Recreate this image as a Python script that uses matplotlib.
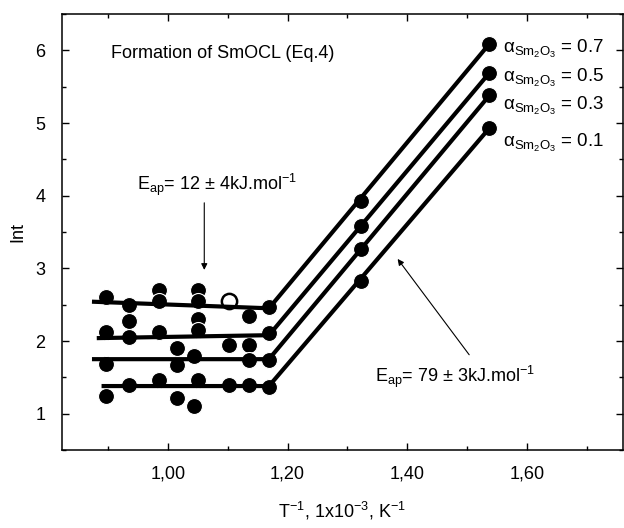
import matplotlib
matplotlib.use('Agg')
import matplotlib.pyplot as plt
from matplotlib.ticker import MultipleLocator, FuncFormatter

plt.rcParams['font.family'] = ['Liberation Sans', 'DejaVu Sans']
plt.rcParams['mathtext.fontset'] = 'custom'
plt.rcParams['mathtext.rm'] = 'Liberation Sans'
plt.rcParams['mathtext.it'] = 'Liberation Sans:italic'
plt.rcParams['mathtext.bf'] = 'Liberation Sans:bold'

# measured points, one list per alpha(Sm2O3)
labels = ['0.7', '0.5', '0.3', '0.1']

x_07 = [0.897, 0.936, 0.986, 0.986, 1.050, 1.050, 1.136, 1.169, 1.322, 1.537]
y_07 = [2.61, 2.50, 2.70, 2.55, 2.70, 2.55, 2.34, 2.47, 3.92, 6.09]
x_05 = [0.897, 0.936, 0.936, 0.986, 1.050, 1.050, 1.102, 1.136, 1.169, 1.322, 1.537]
y_05 = [2.13, 2.05, 2.28, 2.12, 2.30, 2.15, 1.95, 1.95, 2.11, 3.58, 5.69]
x_03 = [0.897, 1.016, 1.016, 1.044, 1.136, 1.169, 1.322, 1.537]
y_03 = [1.69, 1.91, 1.67, 1.79, 1.74, 1.74, 3.26, 5.38]
x_01 = [0.897, 0.936, 0.986, 1.016, 1.044, 1.050, 1.102, 1.136, 1.169, 1.322, 1.537]
y_01 = [1.25, 1.39, 1.46, 1.22, 1.10, 1.46, 1.39, 1.39, 1.37, 2.83, 4.93]

# open (white) circles
x_open = [1.102]
y_open = [2.55]

# fitted lines: start, break, end
fit_x = [[0.877, 1.169, 1.537], [0.885, 1.169, 1.537],
         [0.877, 1.169, 1.537], [0.893, 1.169, 1.537]]
fit_y = [[2.54, 2.45, 6.09], [2.04, 2.08, 5.69],
         [1.75, 1.75, 5.38], [1.38, 1.38, 4.93]]

fig = plt.figure(figsize=(6.24, 5.28), dpi=100)
ax = fig.add_axes([62 / 624, 1 - 450 / 528, 561 / 624, 436 / 528])

for xs, ys in [(x_07, y_07), (x_05, y_05), (x_03, y_03), (x_01, y_01)]:
    ax.plot(xs, ys, 'o', color='black', markersize=11.5,
            markeredgecolor='white', markeredgewidth=0.8, zorder=2)
ax.plot(x_open, y_open, 'o', color='white', markersize=11,
        markeredgecolor='black', markeredgewidth=1.8, zorder=3)

for fx, fy in zip(fit_x, fit_y):
    ax.plot(fx, fy, color='black', linewidth=3.0, zorder=4)

ax.set_xlim(0.8235, 1.76)
ax.set_ylim(0.5, 6.5)
ax.xaxis.set_major_locator(MultipleLocator(0.2))
ax.xaxis.set_minor_locator(MultipleLocator(0.1))
ax.yaxis.set_major_locator(MultipleLocator(1))
ax.yaxis.set_minor_locator(MultipleLocator(0.5))
ax.xaxis.set_major_formatter(FuncFormatter(lambda v, p: ('%.2f' % v).replace('.', ',')))
ax.tick_params(which='both', direction='in', top=True, right=True, width=1.0)
ax.tick_params(which='major', length=5, labelsize=13)
ax.tick_params(which='minor', length=3)
ax.tick_params(axis='x', which='major', pad=11)
ax.tick_params(axis='y', which='major', pad=12)
for s in ax.spines.values():
    s.set_linewidth(1.1)

ax.set_xlabel('T$^{\\mathrm{-1}}$, 1x10$^{\\mathrm{-3}}$, K$^{\\mathrm{-1}}$', fontsize=13, labelpad=13)
ax.set_ylabel('Int', fontsize=13, labelpad=6)

ax.text(0.905, 5.95, 'Formation of SmOCL (Eq.4)', fontsize=13, va='center', ha='left')

ax.text(0.949, 4.15, 'E$_{\\mathrm{ap}}$= 12 \u00b1 4kJ.mol$^{\\mathrm{-1}}$',
        fontsize=13, va='center', ha='left')
ax.annotate('', xy=(1.061, 2.94), xytext=(1.061, 3.94),
            arrowprops=dict(arrowstyle='-|>', color='black', lw=0.8,
                            mutation_scale=9))

ax.text(1.346, 1.50, 'E$_{\\mathrm{ap}}$= 79 \u00b1 3kJ.mol$^{\\mathrm{-1}}$',
        fontsize=13, va='center', ha='left')
ax.annotate('', xy=(1.381, 3.16), xytext=(1.506, 1.78),
            arrowprops=dict(arrowstyle='-|>', color='black', lw=0.8,
                            mutation_scale=9))

for lab, yv in zip(labels, [6.02, 5.62, 5.23, 4.72]):
    ax.text(1.56, yv, '\u03b1$_{\\mathrm{Sm_2O_3}}$ = ' + lab,
            fontsize=13.5, va='center', ha='left')

fig.savefig('out.png', dpi=100)
